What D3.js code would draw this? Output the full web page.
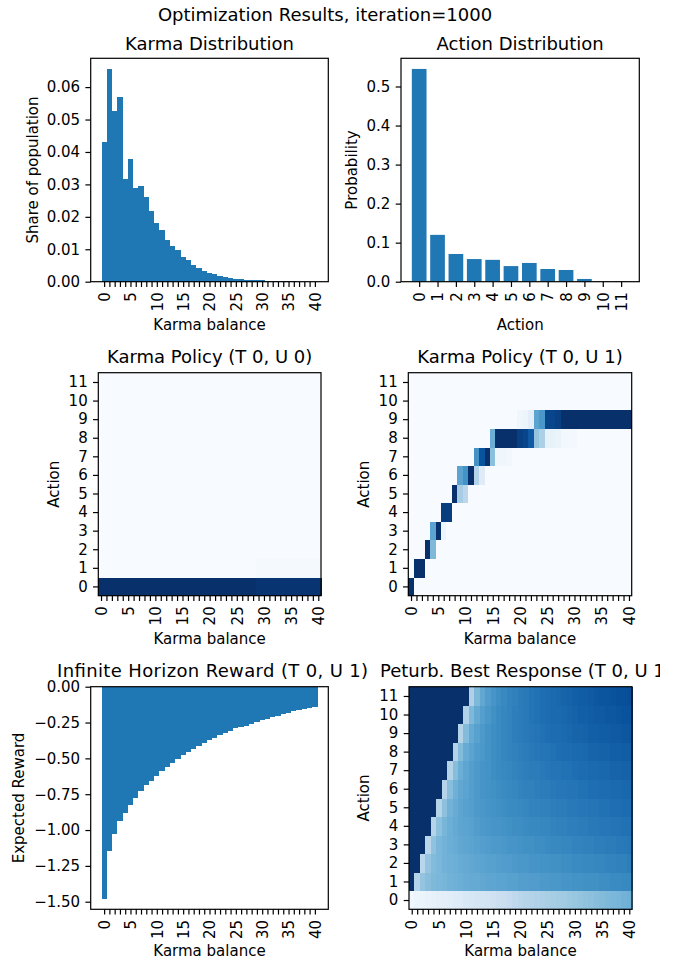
<!DOCTYPE html>
<html>
<head>
<meta charset="utf-8">
<script src="https://cdn.jsdelivr.net/npm/d3@7"></script>
<style>
  body { margin: 0; background: #fff; }
  svg { display: block; font-family: "DejaVu Sans", sans-serif; }
</style>
</head>
<body>
<svg id="fig" width="677" height="963"></svg>
<script>
// ---- data ----
var karma = [0,1,2,3,4,5,6,7,8,9,10,11,12,13,14,15,16,17,18,19,20,
             21,22,23,24,25,26,27,28,29,30,31,32,33,34,35,36,37,38,39,40];
var actions = [0,1,2,3,4,5,6,7,8,9,10,11];
var karmaLabelTicks = [0,5,10,15,20,25,30,35,40];

var karmaShare = [0.0431,0.0656,0.0527,0.0570,0.0317,0.0379,0.0289,0.0295,0.0261,0.0218,
                  0.0181,0.0159,0.0129,0.0110,0.0098,0.0076,0.0067,0.0051,0.0042,0.0033,
                  0.0027,0.0024,0.0017,0.0014,0.0011,0.0008,0.0008,0.0006,0.0006,0.0005,
                  0.0005,0.0002,0.0002,0.00015,0.0001,0.0001,0.0001,0.00005,0.00005,0.00005,0.00005];

var actionProb = [0.545,0.120,0.071,0.058,0.056,0.040,0.048,0.0325,0.030,0.007,0.001,0.001];

var reward = [-1.479,-1.144,-1.026,-0.935,-0.879,-0.823,-0.774,-0.726,-0.684,-0.656,
              -0.621,-0.586,-0.558,-0.530,-0.502,-0.474,-0.453,-0.433,-0.412,-0.391,
              -0.370,-0.356,-0.335,-0.321,-0.307,-0.286,-0.279,-0.272,-0.258,-0.244,
              -0.230,-0.223,-0.209,-0.202,-0.188,-0.181,-0.167,-0.160,-0.153,-0.147,-0.140];

// policy for urgency 0, per action (actions not listed are 0)
var policyU0Action0 = [1,1,1,1,1,1,1,1,1,1,1,1,1,1,1,1,1,1,1,1,1,1,1,1,1,1,1,1,1,
                       0.985,0.985,0.985,0.985,0.985,0.985,0.985,0.985,0.985,0.985,0.985,0.985,0.985];
var policyU0Action1 = [0,0,0,0,0,0,0,0,0,0,0,0,0,0,0,0,0,0,0,0,0,0,0,0,0,0,0,0,0,
                       0.015,0.015,0.015,0.015,0.015,0.015,0.015,0.015,0.015,0.015,0.015,0.015,0.015];

// policy for urgency 1: [karma, action, prob]
var policyU1 = [
  [0,0,1],
  [1,1,1],[2,1,1],
  [3,2,1],[4,2,0.45],
  [4,3,0.55],[5,3,1],[6,3,0.05],
  [6,4,0.95],[7,4,0.95],
  [8,5,1],[9,5,0.35],[10,5,0.28],
  [9,6,0.55],[10,6,0.62],[11,6,1],[12,6,0.3],[13,6,0.12],
  [12,7,0.62],[13,7,0.87],[14,7,1],[15,7,0.42],[16,7,0.04],[17,7,0.04],[18,7,0.03],
  [15,8,0.5],[16,8,1],[17,8,1],[18,8,1],[19,8,1],[20,8,0.94],[21,8,0.92],[22,8,0.84],
  [23,8,0.4],[24,8,0.33],[25,8,0.08],[26,8,0.08],[27,8,0.06],[28,8,0.02],[29,8,0.02],[30,8,0.02],
  [20,9,0.04],[21,9,0.05],[22,9,0.1],[23,9,0.55],[24,9,0.6],[25,9,0.92],[26,9,0.92],[27,9,0.94],
  [28,9,1],[29,9,1],[30,9,1],[31,9,1],[32,9,1],[33,9,1],[34,9,1],[35,9,1],[36,9,1],
  [37,9,1],[38,9,1],[39,9,1],[40,9,1]
];

// perturbed best response, one row per action (colour position 0..1)
var brAction0 = [0.03,0.05,0.06,0.07,0.08,0.09,0.10,0.11,0.12,0.13,0.15,0.16,0.17,0.18,0.19,0.20,0.22,0.23,0.25,0.27,0.29,
                 0.30,0.31,0.32,0.33,0.34,0.35,0.36,0.37,0.38,0.39,0.40,0.41,0.42,0.43,0.44,0.45,0.46,0.47,0.48,0.49];
var brAction1 = [1,0.30,0.40,0.43,0.45,0.46,0.47,0.48,0.49,0.50,0.51,0.52,0.52,0.53,0.54,0.54,0.55,0.55,0.56,0.56,0.57,
                 0.57,0.58,0.58,0.59,0.59,0.60,0.60,0.61,0.61,0.62,0.62,0.63,0.63,0.63,0.64,0.64,0.65,0.65,0.66,0.66];
var brAction2 = [1,1,0.29,0.40,0.44,0.46,0.48,0.49,0.50,0.51,0.52,0.53,0.54,0.55,0.56,0.56,0.57,0.58,0.58,0.59,0.60,
                 0.60,0.61,0.61,0.62,0.62,0.63,0.63,0.64,0.64,0.65,0.65,0.66,0.66,0.67,0.67,0.68,0.68,0.69,0.69,0.70];
var brAction3 = [1,1,1,0.29,0.41,0.46,0.48,0.50,0.51,0.53,0.54,0.55,0.56,0.57,0.58,0.59,0.59,0.60,0.61,0.61,0.62,
                 0.63,0.63,0.64,0.64,0.65,0.66,0.66,0.67,0.67,0.68,0.68,0.69,0.69,0.70,0.70,0.71,0.71,0.72,0.72,0.73];
var brAction4 = [1,1,1,1,0.30,0.42,0.47,0.50,0.52,0.54,0.55,0.56,0.58,0.59,0.60,0.61,0.61,0.62,0.63,0.64,0.64,
                 0.65,0.66,0.66,0.67,0.67,0.68,0.69,0.69,0.70,0.70,0.71,0.71,0.72,0.72,0.73,0.73,0.74,0.74,0.75,0.75];
var brAction5 = [1,1,1,1,1,0.30,0.42,0.48,0.51,0.54,0.56,0.57,0.59,0.60,0.61,0.62,0.63,0.64,0.65,0.65,0.66,
                 0.67,0.68,0.68,0.69,0.69,0.70,0.71,0.71,0.72,0.72,0.73,0.73,0.74,0.74,0.75,0.75,0.76,0.76,0.77,0.77];
var brAction6 = [1,1,1,1,1,1,0.30,0.43,0.49,0.53,0.55,0.57,0.59,0.61,0.62,0.63,0.64,0.65,0.66,0.67,0.68,
                 0.69,0.69,0.70,0.71,0.71,0.72,0.73,0.73,0.74,0.74,0.75,0.75,0.76,0.76,0.77,0.77,0.78,0.78,0.79,0.79];
var brAction7 = [1,1,1,1,1,1,1,0.31,0.43,0.50,0.54,0.57,0.59,0.61,0.62,0.64,0.65,0.66,0.67,0.68,0.69,
                 0.70,0.71,0.71,0.72,0.73,0.74,0.74,0.75,0.75,0.76,0.77,0.77,0.78,0.78,0.79,0.79,0.80,0.80,0.81,0.81];
var brAction8 = [1,1,1,1,1,1,1,1,0.31,0.44,0.51,0.55,0.58,0.60,0.62,0.64,0.65,0.67,0.68,0.69,0.70,
                 0.71,0.72,0.73,0.74,0.74,0.75,0.76,0.77,0.77,0.78,0.78,0.79,0.80,0.80,0.81,0.81,0.82,0.82,0.83,0.83];
var brAction9 = [1,1,1,1,1,1,1,1,1,0.31,0.44,0.52,0.56,0.59,0.62,0.64,0.65,0.67,0.68,0.70,0.71,
                 0.72,0.73,0.74,0.75,0.76,0.77,0.77,0.78,0.79,0.80,0.80,0.81,0.82,0.82,0.83,0.83,0.84,0.84,0.85,0.85];
var brAction10 = [1,1,1,1,1,1,1,1,1,1,0.32,0.45,0.52,0.57,0.60,0.63,0.65,0.67,0.68,0.70,0.71,
                  0.72,0.74,0.75,0.76,0.77,0.78,0.78,0.79,0.80,0.81,0.82,0.82,0.83,0.84,0.84,0.85,0.85,0.86,0.87,0.87];
var brAction11 = [1,1,1,1,1,1,1,1,1,1,1,0.32,0.45,0.53,0.58,0.61,0.64,0.66,0.68,0.69,0.71,
                  0.72,0.74,0.75,0.76,0.77,0.78,0.79,0.80,0.81,0.82,0.83,0.83,0.84,0.85,0.86,0.86,0.87,0.88,0.88,0.89];
var bestResponse = [brAction0,brAction1,brAction2,brAction3,brAction4,brAction5,
                    brAction6,brAction7,brAction8,brAction9,brAction10,brAction11];

// ---- layout ----
var svg = d3.select("#fig");
var barColor = "#1f77b4";
var tickLen = 5.3, tickPad = 5.3;
var blues = d3.scaleLinear()
  .domain([0, 0.125, 0.25, 0.375, 0.5, 0.625, 0.75, 0.875, 1])
  .range(d3.schemeBlues[9]).clamp(true);

var panels = {
  kd: {x0: 90.7, x1: 328.3, y0: 58.3, y1: 281.7},
  ad: {x0: 401, x1: 639.3, y0: 58.3, y1: 281.7},
  p0: {x0: 98.3, x1: 321, y0: 372.7, y1: 595.7},
  p1: {x0: 408.3, x1: 631.7, y0: 372.7, y1: 595.7},
  rw: {x0: 90.7, x1: 328.3, y0: 686.7, y1: 909.3},
  br: {x0: 409, x1: 632, y0: 686.7, y1: 909.3}
};

// the last title runs off the saved figure
svg.append("clipPath").attr("id", "figclip")
  .append("rect").attr("x", 0).attr("y", 0).attr("width", 660).attr("height", 963);

function styleAxis(ax) {
  ax.attr("font-size", 15).attr("font-family", null);
  ax.select(".domain").remove();
  ax.selectAll("line").attr("stroke", "#000").attr("stroke-width", 1.2);
  ax.selectAll("text").attr("fill", "#000");
}

function xAxisRot(r, x, ticks, fmt) {
  var ax = svg.append("g").attr("transform", "translate(0," + r.y1 + ")")
    .call(d3.axisBottom(x).tickValues(ticks).tickSize(tickLen).tickFormat(fmt));
  styleAxis(ax);
  ax.selectAll("text")
    .attr("transform", "rotate(-90)")
    .attr("x", -(tickLen + tickPad)).attr("y", 0)
    .attr("dy", "0.35em").attr("text-anchor", "end");
}

function yAxis(r, y, ticks, fmt) {
  var ax = svg.append("g").attr("transform", "translate(" + r.x0 + ",0)")
    .call(d3.axisLeft(y).tickValues(ticks).tickSize(tickLen).tickPadding(tickPad).tickFormat(fmt));
  styleAxis(ax);
}

function frame(r) {
  svg.append("rect").attr("x", r.x0).attr("y", r.y0)
    .attr("width", r.x1 - r.x0).attr("height", r.y1 - r.y0)
    .attr("fill", "none").attr("stroke", "#000").attr("stroke-width", 1.2);
}

function title(txt, cx, y) {
  return svg.append("text").attr("x", cx).attr("y", y).attr("text-anchor", "middle")
    .attr("font-size", 18).attr("fill", "#000").text(txt);
}
function xlabel(txt, r, y) {
  svg.append("text").attr("x", (r.x0 + r.x1) / 2).attr("y", y).attr("text-anchor", "middle")
    .attr("font-size", 15).attr("fill", "#000").text(txt);
}
function ylabel(txt, cx, r) {
  svg.append("text")
    .attr("transform", "translate(" + cx + "," + (r.y0 + r.y1) / 2 + ") rotate(-90)")
    .attr("text-anchor", "middle").attr("dy", "0.35em")
    .attr("font-size", 15).attr("fill", "#000").text(txt);
}

var karmaFmt = function(d) { return karmaLabelTicks.indexOf(d) >= 0 ? String(d) : ""; };

// bar panel over karma (share of population / expected reward)
function karmaBars(r, values, y) {
  var pad = 0.05 * 41;
  var x = d3.scaleLinear().domain([-0.5 - pad, 40.5 + pad]).range([r.x0, r.x1]);
  svg.append("g").attr("shape-rendering", "crispEdges")
    .selectAll("rect").data(values).join("rect")
    .attr("x", function(d, i) { return x(karma[i] - 0.5); })
    .attr("width", x(1) - x(0))
    .attr("y", function(d) { return Math.min(y(d), y(0)); })
    .attr("height", function(d) { return Math.abs(y(d) - y(0)); })
    .attr("fill", barColor);
  frame(r);
  xAxisRot(r, x, karma, karmaFmt);
}

// heatmap panel (karma on x, action on y, origin lower)
function heatmap(r, cells) {
  var x = d3.scaleLinear().domain([-0.5, 40.5]).range([r.x0, r.x1]);
  var y = d3.scaleLinear().domain([-0.5, 11.5]).range([r.y1, r.y0]);
  svg.append("g").attr("shape-rendering", "crispEdges")
    .selectAll("rect").data(cells).join("rect")
    .attr("x", function(d) { return x(d.k - 0.5); })
    .attr("width", x(1) - x(0) + 0.5)
    .attr("y", function(d) { return y(d.a + 0.5); })
    .attr("height", y(0) - y(1) + 0.5)
    .attr("fill", function(d) { return blues(d.v); });
  frame(r);
  xAxisRot(r, x, karma, karmaFmt);
  yAxis(r, y, actions, function(d) { return String(d); });
}

function denseCells(lookup) {
  var cells = [];
  actions.forEach(function(a) {
    karma.forEach(function(k) { cells.push({k: k, a: a, v: lookup(k, a)}); });
  });
  return cells;
}

// suptitle
title("Optimization Results, iteration=1000", 325, 21);

// Karma Distribution
(function() {
  var r = panels.kd;
  var y = d3.scaleLinear().domain([0, d3.max(karmaShare) * 1.05]).range([r.y1, r.y0]);
  karmaBars(r, karmaShare, y);
  yAxis(r, y, [0, 0.01, 0.02, 0.03, 0.04, 0.05, 0.06], d3.format(".2f"));
  title("Karma Distribution", (r.x0 + r.x1) / 2, 50);
  xlabel("Karma balance", r, 330);
  ylabel("Share of population", 32.5, r);
})();

// Action Distribution
(function() {
  var r = panels.ad;
  var pad = 0.05 * 11.8;
  var x = d3.scaleLinear().domain([-0.4 - pad, 11.4 + pad]).range([r.x0, r.x1]);
  var y = d3.scaleLinear().domain([0, d3.max(actionProb) * 1.05]).range([r.y1, r.y0]);
  svg.append("g").selectAll("rect").data(actionProb).join("rect")
    .attr("x", function(d, i) { return x(actions[i] - 0.4); })
    .attr("width", x(0.8) - x(0))
    .attr("y", function(d) { return y(d); })
    .attr("height", function(d) { return y(0) - y(d); })
    .attr("fill", barColor);
  frame(r);
  xAxisRot(r, x, actions, function(d) { return String(d); });
  yAxis(r, y, [0, 0.1, 0.2, 0.3, 0.4, 0.5], d3.format(".1f"));
  title("Action Distribution", (r.x0 + r.x1) / 2, 50);
  xlabel("Action", r, 330);
  ylabel("Probability", 352, r);
})();

// Karma Policy (T 0, U 0)
(function() {
  var r = panels.p0;
  heatmap(r, denseCells(function(k, a) {
    if (a === 0) return policyU0Action0[k];
    if (a === 1) return policyU0Action1[k];
    return 0;
  }));
  title("Karma Policy (T 0, U 0)", (r.x0 + r.x1) / 2, 363);
  xlabel("Karma balance", r, 644);
  ylabel("Action", 54, r);
})();

// Karma Policy (T 0, U 1)
(function() {
  var r = panels.p1;
  var m = {};
  policyU1.forEach(function(c) { m[c[0] + "_" + c[1]] = c[2]; });
  heatmap(r, denseCells(function(k, a) { return m[k + "_" + a] || 0; }));
  title("Karma Policy (T 0, U 1)", (r.x0 + r.x1) / 2, 363);
  xlabel("Karma balance", r, 644);
  ylabel("Action", 364, r);
})();

// Infinite Horizon Reward
(function() {
  var r = panels.rw;
  var y = d3.scaleLinear().domain([d3.min(reward) * 1.05, 0]).range([r.y1, r.y0]);
  karmaBars(r, reward, y);
  yAxis(r, y, [0, -0.25, -0.5, -0.75, -1.0, -1.25, -1.5], d3.format(".2f"));
  title("Infinite Horizon Reward (T 0, U 1)", 212.6, 677)
    .attr("textLength", 311).attr("lengthAdjust", "spacing");
  xlabel("Karma balance", r, 956);
  ylabel("Expected Reward", 19, r);
})();

// Peturb. Best Response
(function() {
  var r = panels.br;
  heatmap(r, denseCells(function(k, a) { return bestResponse[a][k]; }));
  title("Peturb. Best Response (T 0, U 1)", 380, 677)
    .attr("text-anchor", "start").attr("clip-path", "url(#figclip)");
  xlabel("Karma balance", r, 956);
  ylabel("Action", 364, r);
})();
</script>
</body>
</html>
